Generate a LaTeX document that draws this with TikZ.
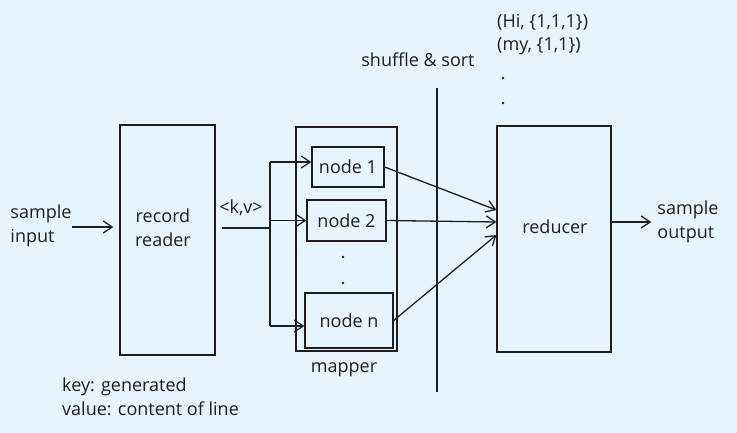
\documentclass[tikz,border=0pt]{standalone}
\usepackage{fontspec}
\setmainfont{Open Sans}
\usetikzlibrary{arrows.meta}
\definecolor{bgc}{RGB}{231,244,254}
\definecolor{ink}{RGB}{30,30,30}
\begin{document}
\begin{tikzpicture}[x=1pt,y=-1pt,
  every node/.style={text=ink,font=\fontsize{18}{24}\selectfont},
  box/.style={draw=ink,line width=1.3pt,inner sep=0pt,align=center},
  lbl/.style={align=left,inner sep=0pt},
  clbl/.style={align=center,inner sep=0pt},
  conn/.style={draw=ink,line width=1.3pt},
  arr/.style={conn,-{Straight Barb[length=9pt,width=12pt]}},
  dot/.style={circle,fill=ink,inner sep=0pt,minimum size=2.8pt}]
\fill[bgc] (0,0) rectangle (737,433);
\useasboundingbox (0,0) rectangle (737,433);
% boxes
\node[box,minimum width=95pt,minimum height=230pt] (rr) at (167.5,240) {};
\node[clbl] (rrl) at (163,228) {record\\reader};
\node[box,minimum width=101pt,minimum height=224pt] (map) at (346.5,239) {};
\node[box,minimum width=72pt,minimum height=40pt] (n1) at (348,167) {node 1};
\node[box,minimum width=79pt,minimum height=41pt] (n2) at (346.5,220.5) {node 2};
\node[box,minimum width=88pt,minimum height=55pt] (nn) at (349,320.5) {node n};
\node[box,minimum width=114pt,minimum height=226pt] (red) at (554,239) {};
\node[clbl] (redl) at (555,227) {reducer};
% labels
\node[lbl] (in) at (41,226) {sample\\input};
\node[lbl] (out) at (688,222) {sample\\output};
\node[lbl] (kv) at (241,208) {<k,v>};
\node[lbl] (mapper) at (344,370) {mapper};
\node[lbl] (ss) at (418,60) {shuffle \& sort};
\node[lbl,anchor=west] (hi) at (497,22) {(Hi, \{1,1,1\})};
\node[lbl,anchor=west] (my) at (497,46) {(my, \{1,1\})};
\node[lbl,anchor=west] (key) at (62,397) {key: generated\\value: content of line};
% dots
\node[dot] (d1) at (343,257) {};
\node[dot] (d2) at (343,283) {};
\node[dot] (d3) at (503,78) {};
\node[dot] (d4) at (503,103) {};
% separator
\coordinate (s1) at (437,88);
\coordinate (s2) at (437,392);
\draw[conn] (s1) -- (s2);
% input
\draw[arr,shorten >=6pt] (in.east |- 0,227) -- ([yshift=13pt]rr.west);
% kv split
\coordinate (kv0) at (222,228);
\coordinate (j) at (270,228);
\coordinate (t) at (270,162);
\coordinate (b) at (270,326);
\draw[conn] (kv0) -- (j);
\draw[conn] (t) -- (b);
\draw[arr] (t) -- (t -| n1.west);
\draw[arr] (t |- n2.west) -- (n2.west);
\draw[arr] (b) -- (b -| nn.west);
% to reducer
\draw[arr] (n1.east) -- ([yshift=29pt]red.west);
\draw[arr] (n2.east) -- ([yshift=17pt]red.west);
\draw[arr] (nn.east) -- ([yshift=4pt]red.west);
% output
\draw[arr,shorten >=6pt] ([yshift=17pt]red.east) -- (out.west |- 0,222);
\end{tikzpicture}
\end{document}
